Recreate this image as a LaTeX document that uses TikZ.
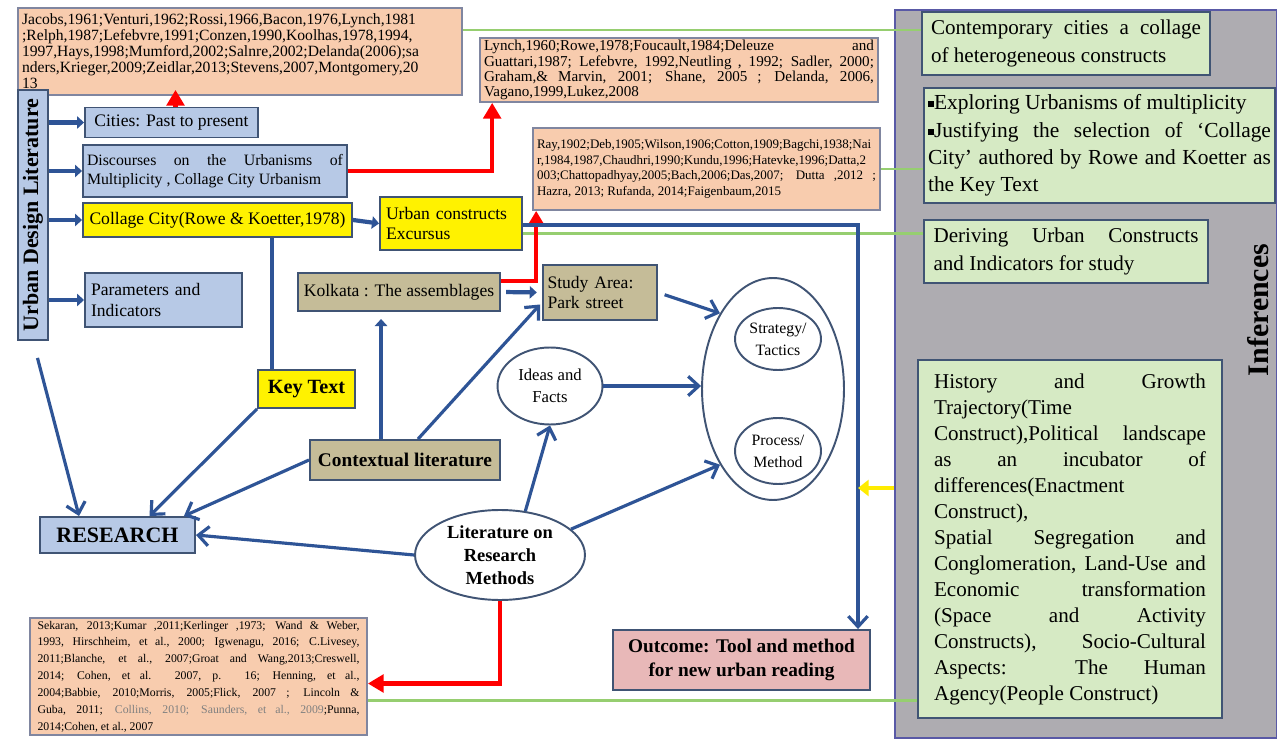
\documentclass[tikz,border=0pt]{standalone}
\usepackage{fontspec}
\setmainfont{Liberation Serif}
\usepackage{graphicx}
\usetikzlibrary{arrows.meta,shapes.geometric,calc}

\definecolor{boxline}{RGB}{64,84,116}
\definecolor{citeline}{RGB}{128,134,160}
\definecolor{lightblue}{RGB}{183,201,230}
\definecolor{peach}{RGB}{248,204,174}
\definecolor{tanfill}{RGB}{197,188,152}
\definecolor{palegreen}{RGB}{214,234,196}
\definecolor{panelgrey}{RGB}{174,172,177}
\definecolor{pinkfill}{RGB}{232,184,184}
\definecolor{arrowblue}{RGB}{46,84,150}
\definecolor{greenline}{RGB}{150,206,112}
\definecolor{yellowarrow}{RGB}{255,236,0}

\newcommand{\bul}{\raisebox{0.25ex}{\rule{0.28em}{0.28em}}}

\tikzset{
    blk/.style={draw=boxline, line width=1.1pt, inner sep=0pt, align=center},
    bluebox/.style={blk, fill=lightblue},
    yellowbox/.style={blk, fill=yellow},
    tanbox/.style={blk, fill=tanfill},
    citebox/.style={draw=citeline, line width=1pt, fill=peach, inner xsep=0.08cm, inner ysep=0pt, align=justify},
    greenbox/.style={draw=boxline, line width=1pt, fill=palegreen, inner ysep=0pt, align=justify},
    oval/.style={ellipse, draw=boxline, line width=1.1pt, fill=white, inner sep=0pt, align=center},
    sarr/.style={draw=arrowblue, line width=2.4pt, -{Triangle[length=4pt,width=7pt]}},
    barr/.style={draw=arrowblue, line width=1.8pt, -{Straight Barb[length=6pt,width=11pt]}},
    bline/.style={draw=arrowblue, line width=2.4pt},
    rarr/.style={draw=red, line width=2.4pt, -{Triangle[length=9pt,width=10pt]}},
    gline/.style={draw=greenline, line width=1.5pt},
    yarr/.style={draw=yellowarrow, line width=2.6pt, -{Triangle[length=6pt,width=9pt]}}
}

\begin{document}
\begin{tikzpicture}[x=0.02cm, y=-0.02cm]
    \path[use as bounding box, fill=white] (0,0) rectangle (1277,739);

    % inferences panel
    \node[draw=gray!70!blue, line width=1pt, fill=panelgrey, minimum width=7.64cm, minimum height=14.56cm, inner sep=0pt] (panel) at (1086,374) {};
    \node[font=\fontsize{17}{17}\selectfont\bfseries] (inf) at (1258,310) {\rotatebox{90}{Inferences}};

    \node[greenbox, text width=5.4cm, inner xsep=0.18cm, minimum height=1.26cm, font=\fontsize{12}{16}\selectfont] (g1) at (1066,43.5)
        {Contemporary cities a collage\linebreak of heterogeneous constructs};
    \node[greenbox, text width=6.86cm, inner xsep=0.08cm, minimum height=2.3cm, font=\fontsize{12.2}{15.6}\selectfont] (g2) at (1099.5,145.5)
        {\bul Exploring Urbanisms of multiplicity\newline \bul Justifying the selection of ‘Collage\linebreak City’ authored by Rowe and Koetter as\linebreak the Key Text};
    \node[greenbox, text width=5.3cm, inner xsep=0.19cm, minimum height=1.26cm, font=\fontsize{12}{16}\selectfont] (g3) at (1066,251.5)
        {Deriving Urban Constructs\linebreak and Indicators for study};
    \node[greenbox, text width=5.44cm, inner xsep=0.32cm, minimum height=7.16cm, font=\fontsize{12}{14.8}\selectfont] (g4) at (1070,539)
        {History and Growth\linebreak Trajectory(Time\newline Construct),Political landscape\linebreak as an incubator of\linebreak differences(Enactment\newline Construct),\newline Spatial Segregation and\linebreak Conglomeration, Land-Use and\linebreak Economic transformation\linebreak (Space and Activity\linebreak Constructs), Socio-Cultural\linebreak Aspects: The Human\linebreak Agency(People Construct)};

    % citation boxes
    \node[citebox, text width=8.72cm, minimum height=1.74cm, font=\fontsize{8.9}{9.1}\selectfont] (cite1) at (240,51.5)
        {Jacobs,1961;Venturi,1962;Rossi,1966,Bacon,1976,Lynch,1981\linebreak ;Relph,1987;Lefebvre,1991;Conzen,1990,Koolhas,1978,1994,\linebreak 1997,Hays,1998;Mumford,2002;Salnre,2002;Delanda(2006);sa\linebreak nders,Krieger,2009;Zeidlar,2013;Stevens,2007,Montgomery,20\linebreak 13};
    \node[citebox, text width=7.8cm, minimum height=1.28cm, font=\fontsize{8.6}{8.6}\selectfont] (cite2) at (679,70)
        {Lynch,1960;Rowe,1978;Foucault,1984;Deleuze and\linebreak Guattari,1987; Lefebvre, 1992,Neutling , 1992; Sadler, 2000;\linebreak Graham,\& Marvin, 2001; Shane, 2005 ; Delanda, 2006,\linebreak Vagano,1999,Lukez,2008};
    \node[citebox, text width=6.78cm, minimum height=1.64cm, font=\fontsize{7.4}{8.9}\selectfont] (cite3) at (706.5,169)
        {Ray,1902;Deb,1905;Wilson,1906;Cotton,1909;Bagchi,1938;Nai\linebreak r,1984,1987,Chaudhri,1990;Kundu,1996;Hatevke,1996;Datta,2\linebreak 003;Chattopadhyay,2005;Bach,2006;Das,2007; Dutta ,2012 ;\linebreak Hazra, 2013; Rufanda, 2014;Faigenbaum,2015};
    \node[citebox, text width=6.44cm, inner xsep=0.15cm, minimum height=2.34cm, font=\fontsize{6.7}{9.6}\selectfont] (cite4) at (198.5,676.5)
        {Sekaran, 2013;Kumar ,2011;Kerlinger ,1973; Wand \& Weber,\linebreak 1993, Hirschheim, et al., 2000; Igwenagu, 2016; C.Livesey,\linebreak 2011;Blanche, et al., 2007;Groat and Wang,2013;Creswell,\linebreak 2014; Cohen, et al. 2007, p. 16; Henning, et al.,\linebreak 2004;Babbie, 2010;Morris, 2005;Flick, 2007 ; Lincoln \&\linebreak Guba, 2011; {\color{gray}Collins, 2010; Saunders, et al., 2009};Punna,\linebreak 2014;Cohen, et al., 2007};

    % literature boxes
    \node[bluebox, minimum width=0.6cm, minimum height=5cm, font=\fontsize{12.5}{12.5}\selectfont\bfseries] (udl) at (33,215) {\rotatebox{90}{Urban Design Literature}};
    \node[bluebox, minimum width=3.46cm, minimum height=0.6cm, font=\fontsize{10}{12}\selectfont] (cities) at (171.5,122.5) {Cities: Past to present};
    \node[bluebox, text width=5.12cm, inner xsep=0.08cm, minimum height=1.04cm, align=justify, font=\fontsize{9}{10.8}\selectfont] (disc) at (215,171)
        {Discourses on the Urbanisms of\linebreak Multiplicity , Collage City Urbanism};
    \node[yellowbox, minimum width=5.38cm, minimum height=0.68cm, font=\fontsize{10}{12}\selectfont] (collage) at (217.5,220) {Collage City(Rowe \& Koetter,1978)};
    \node[yellowbox, text width=2.6cm, inner xsep=0.12cm, minimum height=1.06cm, align=left, font=\fontsize{10}{11.5}\selectfont] (urban) at (451,223.5) {Urban constructs\\Excursus};
    \node[bluebox, text width=2.9cm, inner xsep=0.12cm, minimum height=1.08cm, align=left, font=\fontsize{10}{12.5}\selectfont] (params) at (163.5,300) {Parameters and\\Indicators};
    \node[tanbox, minimum width=4.04cm, minimum height=0.76cm, font=\fontsize{10}{12}\selectfont] (kolkata) at (399,292) {Kolkata : The assemblages};
    \node[tanbox, text width=2.1cm, inner xsep=0.09cm, minimum height=1.1cm, align=left, font=\fontsize{10}{11.5}\selectfont] (study) at (600,292.5) {Study Area:\\Park street};
    \node[yellowbox, minimum width=1.94cm, minimum height=0.76cm, font=\fontsize{11.5}{13}\selectfont\bfseries] (keytext) at (306.5,389) {Key Text};
    \node[tanbox, minimum width=3.8cm, minimum height=0.8cm, font=\fontsize{11}{13}\selectfont\bfseries] (ctx) at (405,460) {Contextual literature};
    \node[bluebox, minimum width=3.1cm, minimum height=0.72cm, font=\fontsize{12.5}{14}\selectfont\bfseries] (research) at (117.5,535) {RESEARCH};
    \node[blk, fill=pinkfill, minimum width=5.14cm, minimum height=1.2cm, font=\fontsize{11}{14}\selectfont\bfseries] (outcome) at (741.5,660) {Outcome: Tool and method\\for new urban reading};

    % ovals
    \node[oval, minimum width=3.4cm, minimum height=1.8cm, font=\fontsize{10.5}{13}\selectfont\bfseries] (litrm) at (500,555) {Literature on\\Research\\Methods};
    \node[oval, minimum width=2.1cm, minimum height=1.54cm, font=\fontsize{9.5}{12.5}\selectfont] (ideas) at (550,386) {Ideas and\\Facts};
    \node[oval, minimum width=2.84cm, minimum height=4.44cm] (big) at (773,389) {};
    \node[oval, minimum width=1.72cm, minimum height=1.24cm, font=\fontsize{9}{12.5}\selectfont] (strat) at (778,339) {Strategy/\\Tactics};
    \node[oval, minimum width=1.72cm, minimum height=1.32cm, font=\fontsize{9}{12.5}\selectfont] (proc) at (778,451) {Process/\\Method};

    % helper points
    \coordinate (g1y) at (0,30);
    \coordinate (urbanlow) at ($(urban.east)+(0,10)$);
    \coordinate (citelow) at ($(cite4.east)+(0,24)$);
    \coordinate (drop) at (858,225);
    \coordinate (kt) at ($(keytext.north west)+(15,0)$);
    \coordinate (up) at ($(ctx.north west)+(72,0)$);
    \coordinate (yel) at ($(panel.west)+(0,114)$);

    % green links
    \draw[gline] (cite1.east |- g1y) -- (g1.west |- g1y);
    \draw[gline] (cite3.east) -- (g2.west |- cite3.east);
    \draw[gline] (urbanlow) -- (urbanlow -| g3.west);
    \draw[gline] (citelow) -- (citelow -| g4.west);

    % red links
    \draw[rarr] ($(cities.north)+(4,0)$) -- ($(cities.north |- cite1.south)+(4,-6)$);
    \draw[rarr] (disc.east) -| ($(cite2.south west)+(13,0)$);
    \draw[rarr] ($(kolkata.east)+(0,-11)$) -| ($(cite3.south west)+(4,0)$);
    \draw[rarr] (litrm.south) |- ($(cite4.east)+(0,7)$);

    % blue links
    \draw[sarr] (udl.east |- cities) -- (cities.west);
    \draw[sarr] (udl.east |- disc) -- (disc.west);
    \draw[sarr] (udl.east |- collage) -- (collage.west);
    \draw[sarr] (udl.east |- params) -- (params.west);
    \draw[sarr] (collage.east) -- (urban.west);
    \draw[barr] (urban.east |- drop) -- (drop) -- (drop |- outcome.north);
    \draw[bline] (kt |- collage.south) -- (kt);
    \draw[sarr, shorten >=4pt] (up) -- (up |- kolkata.south);
    \draw[sarr, shorten <=3pt, shorten >=3pt] (kolkata.east) -- (study.west);
    \draw[barr] ($(ctx.north)+(13,0)$) -- ($(study.west)+(-2,12)$);
    \draw[barr, shorten <=4pt] (study.east) -- (big.125);
    \draw[barr] (ideas.east) -- (ideas.east -| big.west);
    \draw[barr] (litrm.20) -- (big.235);
    \draw[barr] (litrm.60) -- (ideas.south);
    \draw[barr] (ctx.west) -- ($(research.north east)+(-12,0)$);
    \draw[barr] (keytext.south west) -- ($(research.north)+(32,0)$);
    \draw[barr, shorten <=10pt] (udl.south) -- ($(research.north west)+(40,0)$);
    \draw[barr] (litrm.west) -- (research.east);
    \draw[yarr] (yel) -- (yel -| drop);
\end{tikzpicture}
\end{document}
